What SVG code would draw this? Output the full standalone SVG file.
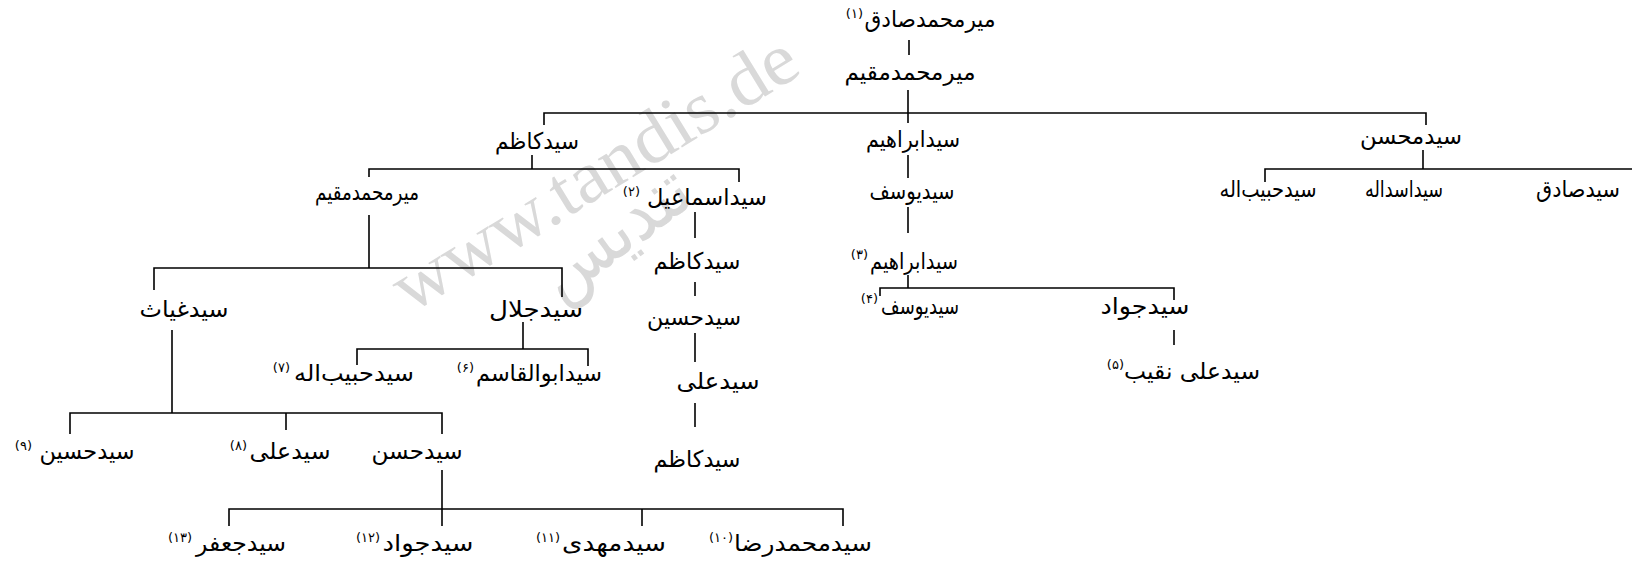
<svg xmlns="http://www.w3.org/2000/svg" width="1632" height="568" viewBox="0 0 1632 568">
<style>
.n{font-family:"DejaVu Sans",sans-serif;font-size:23px;fill:#000;text-anchor:middle;}
.s{font-family:"DejaVu Sans",sans-serif;font-size:13px;fill:#000;text-anchor:end;}
.c path{fill:none;stroke:#000;stroke-width:1.6;}
.wm{font-family:"Liberation Serif",serif;font-size:74px;fill:#d9d9d9;}
.wa{font-family:"DejaVu Sans",sans-serif;font-size:74px;fill:#d9d9d9;}
</style>
<rect width="1632" height="568" fill="#fff"/>
<g id="watermark">
<text class="wm" x="0" y="0" transform="translate(410 314) rotate(-31.5)" textLength="462" lengthAdjust="spacingAndGlyphs">www.tandis.de</text>
<text class="wa" x="0" y="0" text-anchor="middle" transform="translate(628 252) rotate(-36)" textLength="170" lengthAdjust="spacingAndGlyphs">تندیس</text>
</g>
<g class="c" id="connectors">
<path d="M909 40V55"/>
<path d="M908 90V123"/>
<path d="M544 125V113H1426V125"/>
<path d="M532 155V169"/>
<path d="M369 177V169H739V182"/>
<path d="M369 215V268"/>
<path d="M154 290V268H562V297"/>
<path d="M523 322V349"/>
<path d="M357 365V349H588V366"/>
<path d="M172 330V413"/>
<path d="M70 434V413H442V434"/>
<path d="M286 413V430"/>
<path d="M442 470V526"/>
<path d="M229 526V509H843V526"/>
<path d="M642 509V526"/>
<path d="M695 212V238"/>
<path d="M695 282V296"/>
<path d="M695 333V362"/>
<path d="M695 403V427"/>
<path d="M908 155V178"/>
<path d="M908 207V233"/>
<path d="M908 275V288"/>
<path d="M880 296V288H1174V300"/>
<path d="M1174 330V345"/>
<path d="M1423 150V169"/>
<path d="M1265 182V169H1632"/>
</g>
<g id="n1"><text class="n" x="930" y="27" textLength="131" lengthAdjust="spacingAndGlyphs">میرمحمدصادق</text><text class="s" x="863" y="18">(۱)</text></g>
<g id="n2"><text class="n" x="910" y="80" textLength="131" lengthAdjust="spacingAndGlyphs">میرمحمدمقیم</text></g>
<g id="n3"><text class="n" x="537" y="149" textLength="84" lengthAdjust="spacingAndGlyphs">سیدکاظم</text></g>
<g id="n4"><text class="n" x="913" y="147" textLength="94" lengthAdjust="spacingAndGlyphs">سیدابراهیم</text></g>
<g id="n5"><text class="n" x="1411" y="144" textLength="102" lengthAdjust="spacingAndGlyphs">سیدمحسن</text></g>
<g id="n6"><text class="n" x="367" y="200" textLength="104" lengthAdjust="spacingAndGlyphs">میرمحمدمقیم</text></g>
<g id="n7"><text class="n" x="707" y="205" textLength="120" lengthAdjust="spacingAndGlyphs">سیداسماعیل</text><text class="s" x="640" y="196">(۲)</text></g>
<g id="n7a"><text class="n" x="697" y="269" textLength="87" lengthAdjust="spacingAndGlyphs">سیدکاظم</text></g>
<g id="n7b"><text class="n" x="694" y="325" textLength="94" lengthAdjust="spacingAndGlyphs">سیدحسین</text></g>
<g id="n7c"><text class="n" x="718" y="389" textLength="83" lengthAdjust="spacingAndGlyphs">سیدعلی</text></g>
<g id="n7d"><text class="n" x="697" y="467" textLength="87" lengthAdjust="spacingAndGlyphs">سیدکاظم</text></g>
<g id="n8"><text class="n" x="184" y="317" textLength="89" lengthAdjust="spacingAndGlyphs">سیدغیاث</text></g>
<g id="n9"><text class="n" x="536" y="317" textLength="94" lengthAdjust="spacingAndGlyphs">سیدجلال</text></g>
<g id="n10"><text class="n" x="354" y="381" textLength="120" lengthAdjust="spacingAndGlyphs">سیدحبیب‌اله</text><text class="s" x="290" y="372">(۷)</text></g>
<g id="n11"><text class="n" x="539" y="381" textLength="126" lengthAdjust="spacingAndGlyphs">سیدابوالقاسم</text><text class="s" x="474" y="372">(۶)</text></g>
<g id="n12"><text class="n" x="87" y="459" textLength="95" lengthAdjust="spacingAndGlyphs">سیدحسین</text><text class="s" x="32" y="450">(۹)</text></g>
<g id="n13"><text class="n" x="290" y="459" textLength="81" lengthAdjust="spacingAndGlyphs">سیدعلی</text><text class="s" x="247" y="450">(۸)</text></g>
<g id="n14"><text class="n" x="417" y="459" textLength="91" lengthAdjust="spacingAndGlyphs">سیدحسن</text></g>
<g id="n15"><text class="n" x="241" y="551" textLength="90" lengthAdjust="spacingAndGlyphs">سیدجعفر</text><text class="s" x="192" y="542">(۱۳)</text></g>
<g id="n16"><text class="n" x="428" y="551" textLength="91" lengthAdjust="spacingAndGlyphs">سیدجواد</text><text class="s" x="380" y="542">(۱۲)</text></g>
<g id="n17"><text class="n" x="614" y="551" textLength="104" lengthAdjust="spacingAndGlyphs">سیدمهدی</text><text class="s" x="560" y="542">(۱۱)</text></g>
<g id="n18"><text class="n" x="803" y="551" textLength="138" lengthAdjust="spacingAndGlyphs">سیدمحمدرضا</text><text class="s" x="733" y="542">(۱۰)</text></g>
<g id="n19"><text class="n" x="912" y="199" textLength="85" lengthAdjust="spacingAndGlyphs">سیدیوسف</text></g>
<g id="n20"><text class="n" x="914" y="269" textLength="88" lengthAdjust="spacingAndGlyphs">سیدابراهیم</text><text class="s" x="868" y="259">(۳)</text></g>
<g id="n21"><text class="n" x="920" y="314" textLength="78" lengthAdjust="spacingAndGlyphs">سیدیوسف</text><text class="s" x="878" y="303">(۴)</text></g>
<g id="n22"><text class="n" x="1145" y="314" textLength="89" lengthAdjust="spacingAndGlyphs">سیدجواد</text></g>
<g id="n23"><text class="n" x="1192" y="379" textLength="136" lengthAdjust="spacingAndGlyphs">سیدعلی نقیب</text><text class="s" x="1124" y="369">(۵)</text></g>
<g id="n24"><text class="n" x="1268" y="197" textLength="97" lengthAdjust="spacingAndGlyphs">سیدحبیب‌اله</text></g>
<g id="n25"><text class="n" x="1404" y="197" textLength="78" lengthAdjust="spacingAndGlyphs">سیداسداله</text></g>
<g id="n26"><text class="n" x="1578" y="197" textLength="84" lengthAdjust="spacingAndGlyphs">سیدصادق</text></g>
</svg>
